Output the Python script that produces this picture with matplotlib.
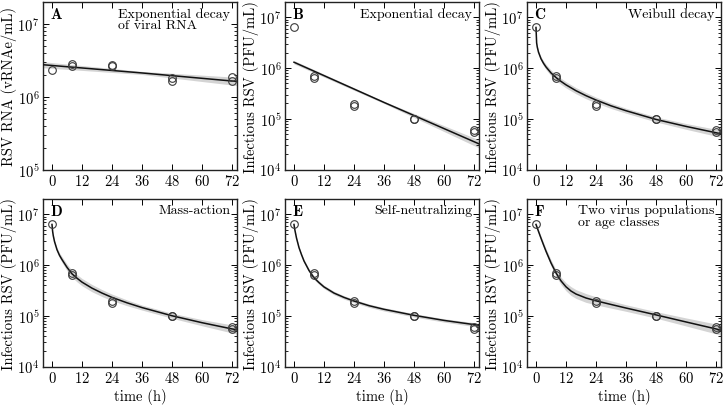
import matplotlib
matplotlib.use("Agg")
import matplotlib.pyplot as plt
import numpy as np
from matplotlib.ticker import LogLocator, NullFormatter, FixedLocator

plt.rcParams['font.family'] = 'serif'
plt.rcParams['font.serif'] = ['cmr10', 'DejaVu Serif']
plt.rcParams['mathtext.fontset'] = 'cm'
plt.rcParams['axes.formatter.use_mathtext'] = True
plt.rcParams['axes.unicode_minus'] = False

# ---- data ----
obs_t = [0, 8, 8, 24, 24, 48, 48, 72, 72]
rna_t = [0, 8, 8, 24, 24, 48, 48, 72, 72]
rna_v = [2.3e6, 2.8e6, 2.6e6, 2.75e6, 2.6e6, 1.8e6, 1.65e6, 1.85e6, 1.65e6]
pfu_v = [6.3e6, 6.9e5, 6.4e5, 1.95e5, 1.8e5, 1.0e5, 1.0e5, 5.9e4, 5.4e4]

# fitted curves
A_t = [-3.6, 36, 74]
A_fit = [2.75e6, 2.12e6, 1.62e6]
A_band = [1.10, 1.05, 1.14]

B_t = [0, 36, 74]
B_fit = [1.3e6, 2.1e5, 3.2e4]
B_band = [1.08, 1.05, 1.2]

curve_t = [0, 0.25, 0.5, 1, 2, 3, 4, 6, 8, 10, 12, 16, 20, 24, 30, 36, 48, 60, 72, 74]
C_fit = [6.3e6, 3.13e6, 2.6e6, 2.05e6, 1.52e6, 1.24e6, 1.05e6, 8.0e5, 6.5e5, 5.45e5,
         4.66e5, 3.57e5, 2.85e5, 2.34e5, 1.8e5, 1.44e5, 9.7e4, 7.07e4, 5.3e4, 5.06e4]
C_band = [1.0, 1.03, 1.05, 1.07, 1.1, 1.12, 1.13, 1.14, 1.15, 1.15,
          1.15, 1.15, 1.15, 1.14, 1.13, 1.12, 1.12, 1.14, 1.17, 1.18]
D_fit = [6.3e6, 4.6e6, 3.8e6, 2.9e6, 2.0e6, 1.55e6, 1.28e6, 9.0e5, 6.7e5, 5.5e5,
         4.6e5, 3.5e5, 2.8e5, 2.3e5, 1.8e5, 1.45e5, 1.0e5, 7.3e4, 5.5e4, 5.3e4]
D_band = [1.0, 1.03, 1.05, 1.07, 1.1, 1.12, 1.14, 1.16, 1.17, 1.18,
          1.18, 1.18, 1.17, 1.16, 1.14, 1.12, 1.12, 1.15, 1.2, 1.21]
E_fit = [6.3e6, 5.2e6, 4.5e6, 3.4e6, 2.2e6, 1.6e6, 1.2e6, 7.8e5, 5.6e5, 4.5e5,
         3.7e5, 2.8e5, 2.3e5, 1.95e5, 1.58e5, 1.34e5, 1.02e5, 8.1e4, 6.7e4, 6.5e4]
E_band = [1.0, 1.02, 1.03, 1.04, 1.05, 1.06, 1.07, 1.08, 1.08, 1.08,
          1.08, 1.08, 1.08, 1.08, 1.08, 1.08, 1.08, 1.08, 1.09, 1.09]

F_t = [0, 1, 2, 3, 4, 6, 8, 10, 12, 14, 16, 20, 24, 30, 36, 48, 60, 72, 74]
F_fit = [6.3e6, 4.59e6, 3.37e6, 2.5e6, 1.87e6, 1.1e6, 7.0e5, 4.87e5, 3.72e5, 3.07e5,
         2.68e5, 2.24e5, 1.97e5, 1.67e5, 1.42e5, 1.04e5, 7.55e4, 5.5e4, 5.2e4]
F_band = [1.05, 1.08, 1.1, 1.12, 1.13, 1.15, 1.16, 1.18, 1.2, 1.22,
          1.22, 1.22, 1.2, 1.18, 1.16, 1.16, 1.2, 1.25, 1.26]

panels = [
    ("A", ["Exponential decay", "of viral RNA"], rna_t, rna_v, A_t, A_fit, A_band, "RSV RNA (vRNAe/mL)", (1e5, 2e7)),
    ("B", ["Exponential decay"], obs_t, pfu_v, B_t, B_fit, B_band, "Infectious RSV (PFU/mL)", (1e4, 2e7)),
    ("C", ["Weibull decay"], obs_t, pfu_v, curve_t, C_fit, C_band, "Infectious RSV (PFU/mL)", (1e4, 2e7)),
    ("D", ["Mass-action"], obs_t, pfu_v, curve_t, D_fit, D_band, "Infectious RSV (PFU/mL)", (1e4, 2e7)),
    ("E", ["Self-neutralizing"], obs_t, pfu_v, curve_t, E_fit, E_band, "Infectious RSV (PFU/mL)", (1e4, 2e7)),
    ("F", ["Two virus populations", "or age classes"], obs_t, pfu_v, F_t, F_fit, F_band, "Infectious RSV (PFU/mL)", (1e4, 2e7)),
]
xticks = [0, 12, 24, 36, 48, 60, 72]

W, H = 724, 406
fig = plt.figure(figsize=(W / 100, H / 100), dpi=100)
lefts = [43, 285, 527]
tops = [3, 200]
aw, ah = 194, 167.5

for i, (letter, title, tx, ty, ft, fv, fb, ylab, ylim) in enumerate(panels):
    r, c = divmod(i, 3)
    ax = fig.add_axes([lefts[c] / W, 1 - (tops[r] + ah) / H, aw / W, ah / H])
    ax.set_yscale('log')
    fv = np.array(fv); fb = np.array(fb)
    ax.fill_between(ft, fv / fb, fv * fb, color='#d4d4d4', lw=0, zorder=1)
    ax.plot(ft, fv, color='#111111', lw=1.1, zorder=3)
    ax.plot(tx, ty, 'o', mfc='none', mec='#3a3a3a', mew=0.8, ms=5.5, zorder=4)
    ax.set_xlim(-3.6, 74)
    ax.set_ylim(*ylim)
    ax.xaxis.set_major_locator(FixedLocator(xticks))
    ax.yaxis.set_major_locator(LogLocator(base=10, numticks=10))
    ax.yaxis.set_minor_locator(LogLocator(base=10, subs=np.arange(2, 10), numticks=20))
    ax.yaxis.set_minor_formatter(NullFormatter())
    ax.tick_params(which='both', direction='in', top=True, right=True, labelsize=10.5, pad=2.5)
    ax.tick_params(which='major', length=4, width=0.7)
    ax.tick_params(which='minor', length=2, width=0.6)
    for s in ax.spines.values():
        s.set_linewidth(1.0)
        s.set_color('#222222')
    ax.set_ylabel(ylab, fontsize=10.5, labelpad=0.5)
    if r == 1:
        ax.set_xlabel("time (h)", fontsize=10.5, labelpad=2)
    ax.text(0.035, 0.975, r'$\mathbf{%s}$' % letter, transform=ax.transAxes,
            ha='left', va='top', fontsize=11)
    ax.text(0.965, 0.97, "\n".join(title), transform=ax.transAxes,
            ha='right', va='top', fontsize=10, multialignment='left', linespacing=0.95)

fig.savefig("out.png", dpi=100)
